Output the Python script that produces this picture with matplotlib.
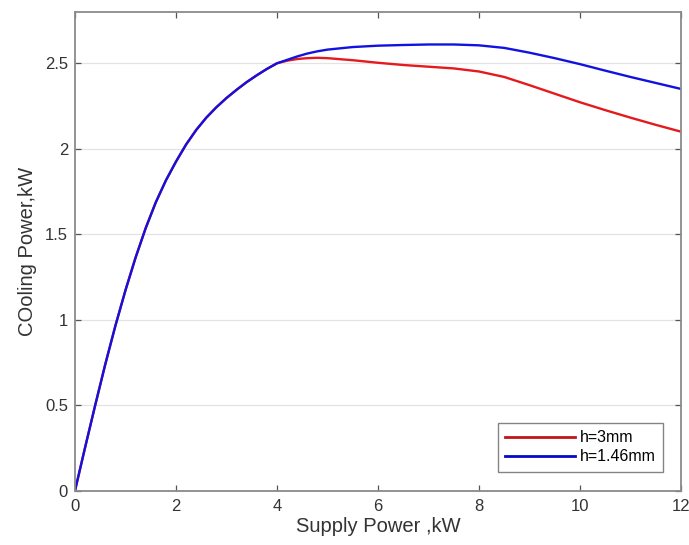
#!/usr/bin/env python3
"""
Cooling power vs supply power for two gap heights (MATLAB-style figure)
"""

import matplotlib
matplotlib.use('Agg')
import matplotlib.pyplot as plt

# shared rising part, both curves lie on top of each other up to ~4 kW
x_common = [0, 0.2, 0.4, 0.6, 0.8, 1.0, 1.2, 1.4, 1.6, 1.8, 2.0, 2.2,
            2.4, 2.6, 2.8, 3.0, 3.2, 3.4, 3.6, 3.8, 4.0]
y_common = [0, 0.253, 0.50, 0.74, 0.965, 1.173, 1.364, 1.536, 1.687, 1.815,
            1.925, 2.025, 2.11, 2.182, 2.243, 2.297, 2.345, 2.39, 2.43,
            2.467, 2.50]

x_tail = [4.2, 4.4, 4.6, 4.8, 5.0, 5.5, 6.0, 6.5, 7.0, 7.5, 8.0, 8.5, 9.0,
          9.5, 10.0, 10.5, 11.0, 11.5, 12.0]
y_red_tail = [2.515, 2.525, 2.53, 2.532, 2.53, 2.518, 2.503, 2.49, 2.48,
              2.47, 2.452, 2.42, 2.372, 2.322, 2.272, 2.226, 2.182, 2.14,
              2.10]
y_blue_tail = [2.52, 2.54, 2.557, 2.57, 2.58, 2.595, 2.603, 2.607, 2.61,
               2.61, 2.605, 2.59, 2.562, 2.53, 2.495, 2.457, 2.42, 2.385,
               2.35]

labels = ['h=3mm', 'h=1.46mm']
x_ticks = [0, 2, 4, 6, 8, 10, 12]
y_ticks = [0, 0.5, 1, 1.5, 2, 2.5]
y_tick_labels = ['0', '0.5', '1', '1.5', '2', '2.5']


def main():
    plt.rcParams['font.family'] = ['Liberation Sans', 'DejaVu Sans']

    fig = plt.figure(figsize=(6.89, 5.45), dpi=100)
    ax = fig.add_axes([75 / 689, 1 - 490.7 / 545, 606 / 689, 478.7 / 545])

    x_all = x_common + x_tail
    ax.plot(x_all, y_common + y_red_tail, color='#e41a1c', linewidth=1.7,
            label=labels[0], solid_joinstyle='round')
    ax.plot(x_all, y_common + y_blue_tail, color='#1212e0', linewidth=1.7,
            label=labels[1], solid_joinstyle='round')

    ax.set_xlim(0, 12)
    ax.set_ylim(0, 2.8)
    ax.set_xticks(x_ticks)
    ax.set_yticks(y_ticks)
    ax.set_yticklabels(y_tick_labels)

    ax.grid(axis='y', color='#e3e3e3', linewidth=0.9)
    ax.set_axisbelow(True)

    for side in ax.spines.values():
        side.set_color('#8a8a8a')
        side.set_linewidth(1.3)
    ax.tick_params(direction='in', top=True, right=True, length=4,
                   width=0.9, color='#555555', labelsize=12,
                   labelcolor='#333333')
    ax.tick_params(axis='x', pad=6)
    ax.tick_params(axis='y', pad=5)

    ax.set_xlabel('Supply Power ,kW', fontsize=14.5, color='#333333', labelpad=2)
    ax.set_ylabel('COoling Power,kW', fontsize=14.5, color='#333333', labelpad=6)

    leg = ax.legend(loc='lower right', bbox_to_anchor=(0.97, 0.04),
                    fontsize=11.5, frameon=True, fancybox=False,
                    handlelength=4.4, handletextpad=0.3, borderpad=0.45,
                    labelspacing=0.25, borderaxespad=0)
    leg.get_frame().set_edgecolor('#666666')
    leg.get_frame().set_linewidth(1.0)
    for line, c in zip(leg.get_lines(), ['#c0161a', '#0808c8']):
        line.set_color(c)
        line.set_linewidth(2.0)

    fig.savefig('out.png', dpi=100, facecolor='white')
    plt.close(fig)


if __name__ == '__main__':
    main()
